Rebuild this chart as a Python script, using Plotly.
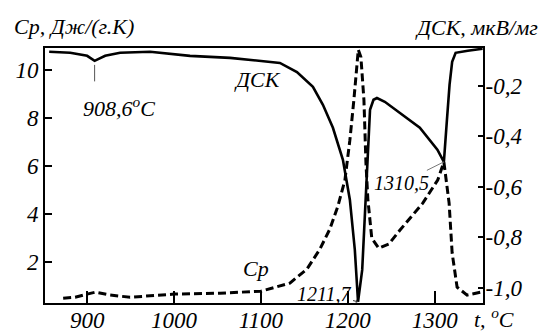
import plotly.graph_objects as go

# DSC signal (right axis, мкВ/мг)
dsc_t = [856.3, 880.5, 900.0, 908.6, 920.7, 937.9, 972.4, 1018.4, 1064.4, 1098.9,
         1121.8, 1141.4, 1159.8, 1171.3, 1182.8, 1194.3, 1202.3, 1208.0, 1211.7,
         1216.5, 1219.5, 1222.5, 1225.5, 1229.5, 1233.5, 1242.5, 1259.8, 1282.8,
         1303.0, 1310.5, 1314.0, 1317.0, 1320.0, 1324.0, 1338.0, 1355.0]
dsc_v = [-0.065, -0.069, -0.081, -0.101, -0.081, -0.069, -0.065, -0.081, -0.089, -0.101,
         -0.109, -0.145, -0.204, -0.275, -0.366, -0.493, -0.651, -0.849, -1.055,
         -0.929, -0.730, -0.493, -0.295, -0.255, -0.248, -0.263, -0.307, -0.366,
         -0.453, -0.501, -0.335, -0.196, -0.105, -0.069, -0.061, -0.053]

# Heat capacity Cp (left axis, Дж/(г.К))
cp_t = [872.4, 886.2, 900.0, 909.2, 926.4, 949.4, 1000.0, 1052.9, 1100.0, 1133.3,
        1152.9, 1167.8, 1179.3, 1188.5, 1196.6, 1202.3, 1206.9, 1210.0, 1212.0,
        1215.0, 1218.5, 1220.8, 1223.0, 1227.5, 1235.5, 1247.0, 1259.8, 1286.2,
        1303.4, 1310.5, 1316.5, 1320.0, 1325.7, 1337.2, 1353.0]
cp_v = [0.50, 0.54, 0.67, 0.75, 0.63, 0.54, 0.67, 0.71, 0.79, 1.13,
        1.71, 2.54, 3.38, 4.33, 5.42, 7.08, 8.75, 10.10, 10.85,
        10.54, 8.75, 6.13, 4.63, 3.00, 2.58, 2.75, 3.33, 4.46,
        5.42, 6.17, 4.46, 2.38, 0.96, 0.63, 0.75]

x_ticks = [900, 1000, 1100, 1200, 1300]
cp_ticks = [2, 4, 6, 8, 10]
dsc_ticks = [-0.2, -0.4, -0.6, -0.8, -1.0]
dsc_ticktext = ["-0,2", "-0,4", "-0,6", "-0,8", "-1,0"]

serif = "Liberation Serif"
tick_font = dict(family=serif, size=23, color="black", style="italic")
lab_font = dict(family=serif, size=22, color="black", style="italic")
small_font = dict(family=serif, size=20, color="black", style="italic")

fig = go.Figure()
fig.add_trace(go.Scatter(x=cp_t, y=cp_v, mode="lines", yaxis="y",
                         line=dict(color="black", width=3, dash="8px,4px")))
fig.add_trace(go.Scatter(x=dsc_t, y=dsc_v, mode="lines", yaxis="y2",
                         line=dict(color="black", width=2.6)))

axis_common = dict(showline=True, linecolor="black", linewidth=2, showgrid=False,
                   zeroline=False, ticks="inside", tickcolor="black",
                   tickfont=tick_font, automargin=False)

fig.update_layout(
    template="none",
    width=543, height=332,
    margin=dict(l=45, r=60, t=48, b=29),
    paper_bgcolor="white", plot_bgcolor="white",
    showlegend=False,
    xaxis=dict(range=[851.5, 1355.5], tickvals=x_ticks, ticklen=12, tickwidth=1.5,
               mirror=True, ticklabelstandoff=-5, **axis_common),
    yaxis=dict(range=[0.3, 10.92], tickvals=cp_ticks, ticklen=7, tickwidth=1.5,
               **axis_common),
    yaxis2=dict(range=[-1.06, -0.05], tickvals=dsc_ticks, ticktext=dsc_ticktext,
                overlaying="y", side="right", ticklen=5, tickwidth=1.5,
                ticklabelstandoff=-4, **axis_common),
)

anns = [
    dict(xref="paper", yref="paper", x=-0.075, y=1.086, xanchor="left", yanchor="middle",
         text="Cp, Дж/(г.К)", showarrow=False, font=lab_font),
    dict(xref="paper", yref="paper", x=1.13, y=1.082, xanchor="right", yanchor="middle",
         text="ДСК, мкВ/мг", showarrow=False, font=lab_font),
    dict(xref="paper", yref="paper", x=0.975, y=-0.06, xanchor="left", yanchor="middle",
         text="t, <sup>o</sup>C", showarrow=False, font=lab_font),
    dict(xref="x", yref="y2", x=1095.5, y=-0.176, text="ДСК", showarrow=False,
         font=lab_font),
    dict(xref="x", yref="y", x=1094.3, y=1.75, text="Cp", showarrow=False,
         font=lab_font),
    dict(xref="x", yref="y2", x=936.7, y=-0.283, text="908,6<sup>o</sup>C",
         showarrow=False, font=lab_font),
    # leader under the 908.6 °C dip
    dict(xref="x", yref="y2", x=908.6, y=-0.101, ax=0, ay=22, text="",
         showarrow=True, arrowhead=0, arrowwidth=1, arrowcolor="#555", standoff=4),
    dict(xref="x", yref="y2", x=1211.7, y=-1.055, ax=-34, ay=-8, text="1211,7",
         showarrow=True, arrowhead=1, arrowsize=0.7, arrowwidth=1, arrowcolor="#333",
         font=small_font),
    dict(xref="x", yref="y2", x=1310.5, y=-0.501, ax=-42, ay=21, text="1310,5",
         showarrow=True, arrowhead=0, arrowwidth=1, arrowcolor="#777",
         font=small_font),
]
fig.update_layout(annotations=anns)

fig.write_html("out.html")
